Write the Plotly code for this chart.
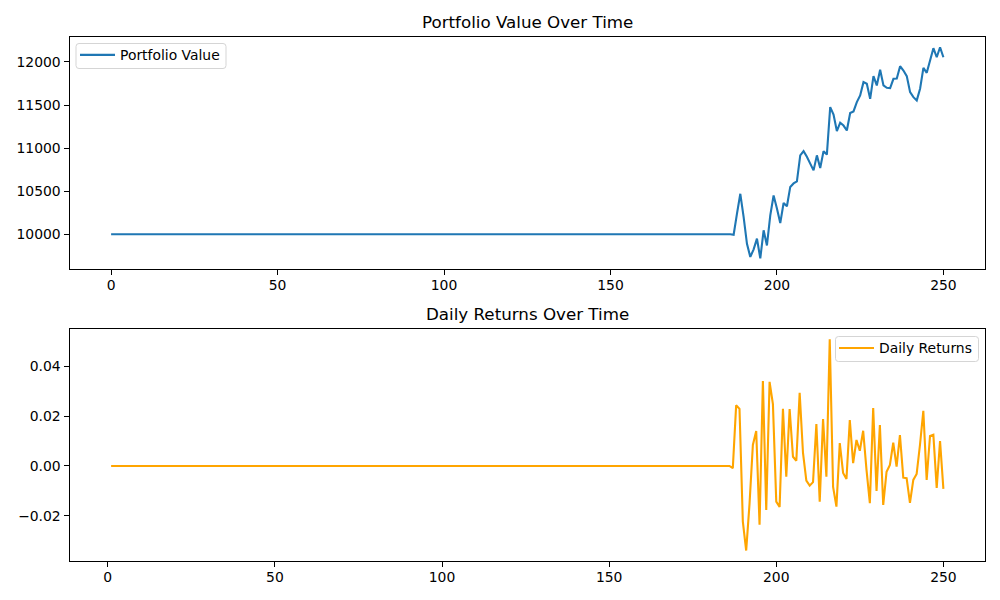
import plotly.graph_objects as go

# Portfolio value: index 0..186 flat, then read values from index 187 to 250
portfolio_flat = [10000.0] * 187
portfolio_active = [
    9995, 10240, 10470, 10200, 9890, 9737, 9825, 9950, 9720, 10046, 9870, 10220, 10450, 10300,
    10130, 10363, 10325, 10550, 10590, 10613, 10916, 10965, 10900, 10820, 10742, 10916, 10770,
    10965, 10925, 11476, 11390, 11198, 11295, 11262, 11205, 11407, 11426, 11534, 11612, 11766,
    11747, 11572, 11836, 11728, 11910, 11728, 11700, 11697, 11805, 11809, 11951, 11901, 11836,
    11650, 11592, 11554, 11690, 11932, 11874, 12017, 12160, 12055, 12171, 12055,
]
portfolio_values = portfolio_flat + portfolio_active
portfolio_days = list(range(len(portfolio_values)))

# Daily returns: index 1..186 flat, then read values from index 187 to 250
returns_flat = [0.0] * 186
returns_active = [
    -0.0009, 0.0243, 0.0229, -0.0223, -0.0339, -0.0152, 0.0084, 0.0140, -0.0236, 0.0340,
    -0.0176, 0.0337, 0.0248, -0.0143, -0.0164, 0.0229, -0.0043, 0.0228, 0.0037, 0.0021,
    0.0293, 0.0052, -0.0059, -0.0079, -0.0065, 0.0168, -0.0143, 0.0188, -0.0043, 0.0508,
    -0.0084, -0.0163, 0.0092, -0.0028, -0.0052, 0.0184, 0.0011, 0.0104, 0.0061, 0.0141,
    -0.0016, -0.0149, 0.0232, -0.0100, 0.0164, -0.0156, -0.0023, 0.0004, 0.0093, -0.0003,
    0.0124, -0.0047, -0.0049, -0.0148, -0.0056, -0.0032, 0.0085, 0.0221, -0.0056, 0.0120,
    0.0125, -0.0088, 0.0100, -0.0092,
]
returns_values = returns_flat + returns_active
returns_days = list(range(1, len(returns_values) + 1))

x_ticks = [0, 50, 100, 150, 200, 250]
top_y_ticks = [10000, 10500, 11000, 11500, 12000]
bottom_y_ticks = [-0.02, 0.0, 0.02, 0.04]

W, H = 1000, 600
FONT = "DejaVu Sans"


def axis_style(**kw):
    return dict(
        showgrid=False, zeroline=False, showline=True, mirror=True,
        linecolor="black", linewidth=1, ticks="outside", ticklen=5, tickwidth=1,
        tickcolor="black", tickfont=dict(family=FONT, size=13.9, color="black"), **kw
    )


def legend_style(x, y):
    return dict(x=x, y=y, xanchor="left", yanchor="top", itemwidth=35,
                bgcolor="rgba(0,0,0,0)", borderwidth=0,
                font=dict(family=FONT, size=13.9, color="black"))


def rounded_box(x0, y0, x1, y1, r=3):
    """Rounded legend frame, given in page pixels, as a paper-coordinate shape."""
    px = lambda v: f"{v / W:.5f}"
    py = lambda v: f"{1 - v / H:.5f}"
    path = (
        f"M{px(x0 + r)},{py(y0)} L{px(x1 - r)},{py(y0)} Q{px(x1)},{py(y0)} {px(x1)},{py(y0 + r)} "
        f"L{px(x1)},{py(y1 - r)} Q{px(x1)},{py(y1)} {px(x1 - r)},{py(y1)} "
        f"L{px(x0 + r)},{py(y1)} Q{px(x0)},{py(y1)} {px(x0)},{py(y1 - r)} "
        f"L{px(x0)},{py(y0 + r)} Q{px(x0)},{py(y0)} {px(x0 + r)},{py(y0)} Z"
    )
    return dict(type="path", path=path, xref="paper", yref="paper", layer="above",
                fillcolor="rgba(255,255,255,0.8)", line=dict(color="#d5d5d5", width=1))


fig = go.Figure()
fig.add_trace(go.Scatter(x=portfolio_days, y=portfolio_values, mode="lines", name="Portfolio Value",
                         line=dict(color="#1f77b4", width=2.1, simplify=False), xaxis="x", yaxis="y",
                         legend="legend"))
fig.add_trace(go.Scatter(x=returns_days, y=returns_values, mode="lines", name="Daily Returns",
                         line=dict(color="orange", width=2.1, simplify=False), xaxis="x2", yaxis="y2",
                         legend="legend2"))

fig.update_layout(
    width=W, height=H, autosize=False, showlegend=True,
    paper_bgcolor="white", plot_bgcolor="white",
    margin=dict(l=0, r=0, t=0, b=0, autoexpand=False),
    font=dict(family=FONT, size=13.9, color="black"),
    xaxis=axis_style(domain=[69.5 / W, 985 / W], range=[-12.5, 262.5], anchor="y",
                     tickmode="array", tickvals=x_ticks, ticklabelstandoff=-2),
    yaxis=axis_style(domain=[1 - 269 / H, 1 - 37 / H], range=[9597, 12290], anchor="x",
                     tickmode="array", tickvals=top_y_ticks, tickformat="d"),
    xaxis2=axis_style(domain=[69.5 / W, 985 / W], range=[-11.45, 262.45], anchor="y2",
                      tickmode="array", tickvals=x_ticks, ticklabelstandoff=-2),
    yaxis2=axis_style(domain=[1 - 561 / H, 1 - 329 / H], range=[-0.0381, 0.0549], anchor="x2",
                      tickmode="array", tickvals=bottom_y_ticks, tickformat=".2f"),
    annotations=[
        dict(text="Portfolio Value Over Time", x=527 / W, y=1 - 22 / H, xref="paper", yref="paper",
             xanchor="center", yanchor="middle", showarrow=False, font=dict(family=FONT, size=16.7, color="black")),
        dict(text="Daily Returns Over Time", x=527 / W, y=1 - 314 / H, xref="paper", yref="paper",
             xanchor="center", yanchor="middle", showarrow=False, font=dict(family=FONT, size=16.7, color="black")),
    ],
    shapes=[rounded_box(76, 43.5, 226, 68.5), rounded_box(835.5, 336.5, 978.5, 361.5)],
    legend=legend_style(75 / W, 1 - 39.3 / H),
    legend2=legend_style(834 / W, 1 - 332.5 / H),
)
fig.write_html("out.html", config={"displayModeBar": False},
               post_script="document.body.style.margin='0';document.body.style.overflow='hidden';")
